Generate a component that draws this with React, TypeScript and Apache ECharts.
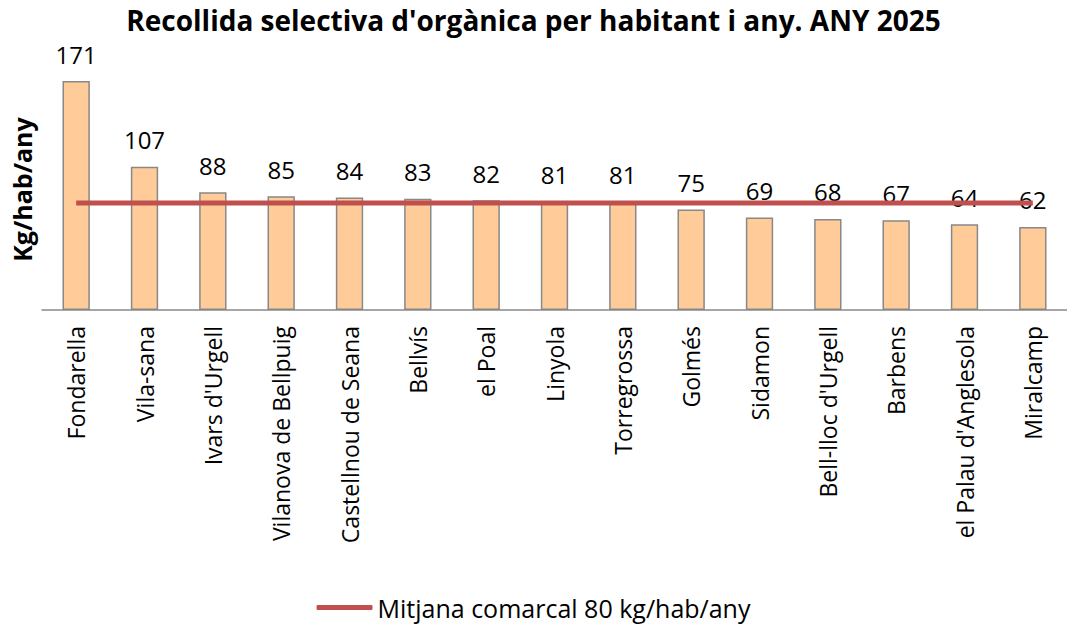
import React, { useEffect, useRef } from "react";
import * as echarts from "echarts";

const categories = [
  "Fondarella",
  "Vila-sana",
  "Ivars d'Urgell",
  "Vilanova de Bellpuig",
  "Castellnou de Seana",
  "Bellvís",
  "el Poal",
  "Linyola",
  "Torregrossa",
  "Golmés",
  "Sidamon",
  "Bell-lloc d'Urgell",
  "Barbens",
  "el Palau d'Anglesola",
  "Miralcamp",
];
const values = [171, 107, 88, 85, 84, 83, 82, 81, 81, 75, 69, 68, 67, 64, 62];
const averageValue = 80;
const averageLine = categories.map(() => averageValue);
const averageName = "Mitjana comarcal 80 kg/hab/any";
const titleText = "Recollida selectiva d'orgànica per habitant i any. ANY 2025";
const yName = "Kg/hab/any";

const FONT = "'Open Sans', 'Noto Sans', sans-serif";

export default function App() {
  const ref = useRef<HTMLDivElement>(null);
  useEffect(() => {
    if (!ref.current) return;
    const chart = echarts.init(ref.current, undefined, { renderer: "svg" });
    chart.setOption({
      animation: false,
      backgroundColor: "#ffffff",
      title: {
        text: titleText,
        left: "center",
        top: 1,
        textStyle: { fontFamily: FONT, fontSize: 28, fontWeight: "bold", color: "#000" },
      },
      legend: {
        bottom: 1,
        left: "center",
        itemWidth: 56,
        itemHeight: 5,
        itemGap: 4,
        data: [{ name: averageName, icon: "roundRect" }],
        textStyle: { fontFamily: FONT, fontSize: 25, color: "#000" },
      },
      grid: { left: 42, right: -5, top: 69, bottom: 626 - 310 },
      xAxis: {
        type: "category",
        data: categories,
        axisLine: { lineStyle: { color: "#898989", width: 1.5 } },
        axisTick: { length: 8, lineStyle: { color: "#898989", width: 1.5 } },
        axisLabel: {
          rotate: 90,
          interval: 0,
          margin: 16,
          fontFamily: FONT,
          fontSize: 23,
          color: "#000",
        },
      },
      yAxis: {
        type: "value",
        min: 0,
        max: 180,
        name: yName,
        nameLocation: "middle",
        nameGap: 8,
        nameTextStyle: { fontFamily: FONT, fontSize: 25, fontWeight: "bold", color: "#000" },
        axisLine: { show: false },
        axisTick: { show: false },
        axisLabel: { show: false },
        splitLine: { show: false },
      },
      series: [
        {
          type: "bar",
          data: values,
          barWidth: "40%",
          itemStyle: { color: "#FFCC99", borderColor: "#888888", borderWidth: 1.5 },
          label: {
            show: true,
            position: "top",
            distance: 15,
            fontFamily: FONT,
            fontSize: 24,
            color: "#000",
          },
          z: 2,
        },
        {
          type: "line",
          name: averageName,
          data: averageLine,
          symbol: "none",
          lineStyle: { color: "#C0504D", width: 5 },
          itemStyle: { color: "#C0504D" },
          z: 3,
        },
      ],
    });
    return () => chart.dispose();
  }, []);
  return (
    <div
      ref={ref}
      style={{ position: "absolute", left: 0, top: 0, width: 1067, height: 626 }}
    />
  );
}
